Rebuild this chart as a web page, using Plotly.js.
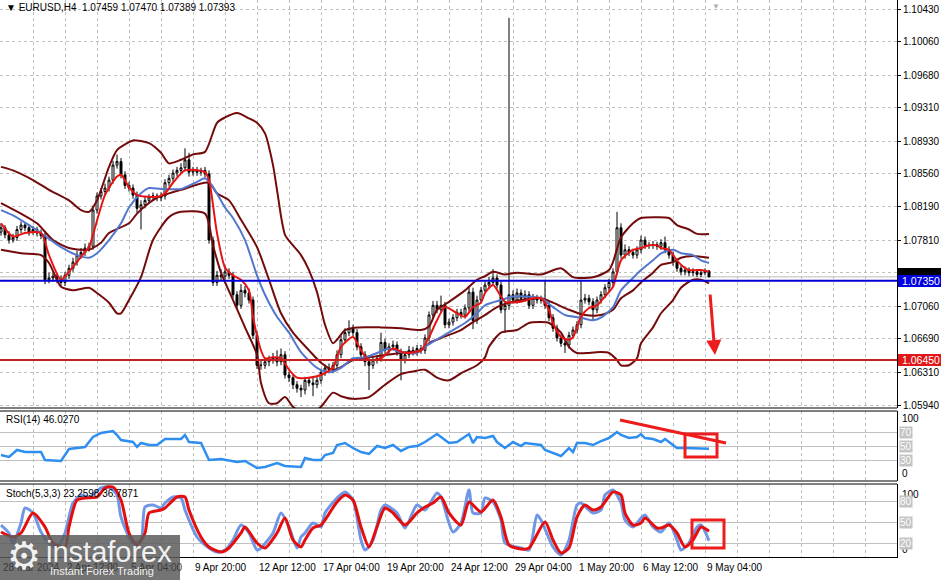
<!DOCTYPE html>
<html><head><meta charset="utf-8">
<script src="https://cdn.plot.ly/plotly-3.0.1.min.js"></script>
<style>html,body{margin:0;padding:0;background:#fff;}#chart{width:944px;height:580px;}</style>
</head><body><div id="chart"></div>
<script>
// ---------- DATA (EURUSD H4, bar index 0..177) ----------
const symbolTitle = "EURUSD,H4";
const lastOHLC = ["1.07459","1.07470","1.07389","1.07393"];
const openP = [1.0790,1.0795,1.0787,1.0781,1.0784,1.0793,1.0798,1.0795,1.0790,1.0793,
1.0789,1.0786,1.0736,1.0738,1.0740,1.0736,1.0733,1.0741,1.0749,1.0756,
1.0764,1.0767,1.0772,1.0774,1.0815,1.0831,1.0836,1.0840,1.0849,1.0866,
1.0870,1.0855,1.0843,1.0840,1.0832,1.0817,1.0821,1.0826,1.0830,1.0831,
1.0829,1.0831,1.0846,1.0851,1.0857,1.0860,1.0863,1.0872,1.0858,1.0860,
1.0858,1.0860,1.0856,1.0781,1.0733,1.0741,1.0740,1.0745,1.0741,1.0719,
1.0707,1.0724,1.0721,1.0713,1.0673,1.0639,1.0639,1.0643,1.0645,1.0648,
1.0643,1.0651,1.0628,1.0625,1.0617,1.0613,1.0611,1.0622,1.0619,1.0617,
1.0622,1.0631,1.0636,1.0634,1.0639,1.0651,1.0668,1.0676,1.0681,1.0676,
1.0660,1.0651,1.0643,1.0639,1.0645,1.0647,1.0665,1.0656,1.0660,1.0662,
1.0654,1.0645,1.0651,1.0656,1.0654,1.0658,1.0656,1.0670,1.0696,1.0707,
1.0702,1.0707,1.0685,1.0688,1.0693,1.0699,1.0696,1.0704,1.0722,1.0690,
1.0713,1.0724,1.0730,1.0733,1.0738,1.0730,1.0702,1.0707,1.0719,1.0713,
1.0721,1.0715,1.0719,1.0707,1.0715,1.0713,1.0713,1.0707,1.0693,1.0681,
1.0670,1.0664,1.0662,1.0673,1.0679,1.0685,1.0713,1.0715,1.0711,1.0702,
1.0713,1.0719,1.0727,1.0733,1.0745,1.0795,1.0764,1.0770,1.0767,1.0764,
1.0770,1.0781,1.0775,1.0775,1.0776,1.0774,1.0778,1.0770,1.0764,1.0756,
1.0749,1.0745,1.0747,1.0744,1.0745,1.0742,1.0744,1.07459];
const highP = [1.0800,1.0798,1.0791,1.0788,1.0797,1.0802,1.0801,1.0799,1.0797,1.0796,
1.0793,1.0789,1.0744,1.0745,1.0744,1.0741,1.0745,1.0753,1.0761,1.0769,
1.0772,1.0777,1.0778,1.0820,1.0835,1.0840,1.0845,1.0853,1.0871,1.0878,
1.0874,1.0859,1.0847,1.0844,1.0836,1.0826,1.0830,1.0833,1.0835,1.0834,
1.0835,1.0850,1.0855,1.0861,1.0864,1.0868,1.0885,1.0880,1.0864,1.0864,
1.0863,1.0864,1.0860,1.0785,1.0746,1.0748,1.0752,1.0749,1.0745,1.0723,
1.0731,1.0729,1.0726,1.0717,1.0677,1.0645,1.0648,1.0650,1.0653,1.0656,
1.0658,1.0655,1.0632,1.0629,1.0621,1.0617,1.0626,1.0626,1.0625,1.0626,
1.0635,1.0640,1.0641,1.0643,1.0656,1.0673,1.0681,1.0690,1.0685,1.0680,
1.0664,1.0655,1.0647,1.0649,1.0651,1.0676,1.0669,1.0664,1.0667,1.0666,
1.0658,1.0655,1.0661,1.0660,1.0662,1.0662,1.0674,1.0700,1.0712,1.0712,
1.0718,1.0711,1.0692,1.0697,1.0703,1.0703,1.0708,1.0727,1.0727,1.0718,
1.0728,1.0734,1.0739,1.0748,1.0742,1.0734,1.0712,1.1033,1.0724,1.0726,
1.0725,1.0724,1.0723,1.0720,1.0719,1.0718,1.0736,1.0711,1.0697,1.0685,
1.0674,1.0668,1.0677,1.0683,1.0689,1.0736,1.0720,1.0719,1.0715,1.0717,
1.0723,1.0731,1.0737,1.0749,1.0813,1.0800,1.0776,1.0774,1.0771,1.0774,
1.0786,1.0785,1.0779,1.0780,1.0779,1.0782,1.0785,1.0774,1.0768,1.0760,
1.0752,1.0751,1.0750,1.0749,1.0748,1.0747,1.0749,1.07470];
const lowP = [1.0786,1.0783,1.0777,1.0778,1.0780,1.0789,1.0791,1.0786,1.0787,1.0785,
1.0782,1.0731,1.0732,1.0734,1.0732,1.0729,1.0729,1.0737,1.0745,1.0752,
1.0760,1.0763,1.0768,1.0770,1.0811,1.0827,1.0832,1.0836,1.0845,1.0862,
1.0851,1.0839,1.0836,1.0828,1.0812,1.0793,1.0817,1.0822,1.0826,1.0825,
1.0825,1.0827,1.0842,1.0847,1.0853,1.0856,1.0859,1.0853,1.0854,1.0854,
1.0854,1.0852,1.0777,1.0729,1.0729,1.0735,1.0736,1.0737,1.0715,1.0702,
1.0703,1.0716,1.0709,1.0669,1.0635,1.0634,1.0635,1.0638,1.0641,1.0638,
1.0639,1.0624,1.0620,1.0612,1.0608,1.0603,1.0606,1.0615,1.0604,1.0613,
1.0618,1.0627,1.0630,1.0630,1.0635,1.0647,1.0664,1.0672,1.0672,1.0656,
1.0647,1.0638,1.0611,1.0635,1.0641,1.0643,1.0652,1.0652,1.0656,1.0650,
1.0622,1.0641,1.0647,1.0650,1.0650,1.0652,1.0652,1.0666,1.0692,1.0698,
1.0698,1.0681,1.0681,1.0684,1.0689,1.0692,1.0692,1.0700,1.0680,1.0686,
1.0709,1.0720,1.0726,1.0729,1.0726,1.0698,1.0676,1.0702,1.0709,1.0709,
1.0711,1.0711,1.0703,1.0703,1.0709,1.0709,1.0703,1.0689,1.0677,1.0666,
1.0660,1.0653,1.0658,1.0669,1.0675,1.0681,1.0709,1.0707,1.0690,1.0698,
1.0709,1.0715,1.0723,1.0729,1.0741,1.0760,1.0760,1.0763,1.0760,1.0760,
1.0766,1.0771,1.0771,1.0771,1.0770,1.0770,1.0766,1.0760,1.0752,1.0745,
1.0741,1.0741,1.0740,1.0740,1.0739,1.0739,1.0741,1.07389];
const closeP = [1.0795,1.0787,1.0781,1.0784,1.0793,1.0798,1.0795,1.0790,1.0793,1.0789,
1.0786,1.0736,1.0738,1.0740,1.0736,1.0733,1.0741,1.0749,1.0756,1.0764,
1.0767,1.0772,1.0774,1.0815,1.0831,1.0836,1.0840,1.0849,1.0866,1.0870,
1.0855,1.0843,1.0840,1.0832,1.0817,1.0821,1.0826,1.0830,1.0831,1.0829,
1.0831,1.0846,1.0851,1.0857,1.0860,1.0863,1.0872,1.0858,1.0860,1.0858,
1.0860,1.0856,1.0781,1.0733,1.0741,1.0740,1.0745,1.0741,1.0719,1.0707,
1.0724,1.0721,1.0713,1.0673,1.0639,1.0639,1.0643,1.0645,1.0648,1.0643,
1.0651,1.0628,1.0625,1.0617,1.0613,1.0611,1.0622,1.0619,1.0617,1.0622,
1.0631,1.0636,1.0634,1.0639,1.0651,1.0668,1.0676,1.0681,1.0676,1.0660,
1.0651,1.0643,1.0639,1.0645,1.0647,1.0665,1.0656,1.0660,1.0662,1.0654,
1.0645,1.0651,1.0656,1.0654,1.0658,1.0656,1.0670,1.0696,1.0707,1.0702,
1.0707,1.0685,1.0688,1.0693,1.0699,1.0696,1.0704,1.0722,1.0690,1.0713,
1.0724,1.0730,1.0733,1.0738,1.0730,1.0702,1.0707,1.0719,1.0713,1.0721,
1.0715,1.0719,1.0707,1.0715,1.0713,1.0713,1.0707,1.0693,1.0681,1.0670,
1.0664,1.0662,1.0673,1.0679,1.0685,1.0713,1.0715,1.0711,1.0702,1.0713,
1.0719,1.0727,1.0733,1.0745,1.0795,1.0764,1.0770,1.0767,1.0764,1.0770,
1.0781,1.0775,1.0775,1.0776,1.0774,1.0778,1.0770,1.0764,1.0756,1.0749,
1.0745,1.0747,1.0744,1.0745,1.0742,1.0744,1.0746,1.07393];

// fast MA (red)
const fastX = [0,3,6,10,12,15,17,20,22,23,26,29,30,32,34,37,39,41,43,46,51,52,54,56,58,60,62,63,65,66,68,70,72,74,77,80,83,85,88,90,92,95,98,101,105,107,109,111,114,116,118,120,121,123,125,126,130,133,135,137,138,140,142,143,145,147,149,151,153,154,155,157,158,160,162,164,165,167,168,170,172,174,175,177];
const fastY = [1.0800,1.0785,1.0789,1.0789,1.0764,1.0736,1.0745,1.0762,1.0773,1.0787,1.0832,1.0853,1.0855,1.0841,1.0832,1.0830,1.0830,1.0834,1.0846,1.0860,1.0858,1.0849,1.0789,1.0750,1.0741,1.0736,1.0724,1.0694,1.0656,1.0647,1.0648,1.0647,1.0634,1.0625,1.0625,1.0628,1.0637,1.0660,1.0671,1.0656,1.0645,1.0647,1.0658,1.0653,1.0656,1.0671,1.0690,1.0705,1.0698,1.0694,1.0705,1.0710,1.0721,1.0730,1.0717,1.0711,1.0711,1.0715,1.0715,1.0702,1.0687,1.0671,1.0668,1.0671,1.0694,1.0704,1.0707,1.0717,1.0728,1.0744,1.0758,1.0767,1.0770,1.0772,1.0775,1.0775,1.0772,1.0770,1.0764,1.0753,1.0747,1.0747,1.0747,1.0745];
// slow MA (blue)
const slowX = [0,3,7,10,15,19,22,24,27,30,32,35,37,40,45,49,51,53,56,58,61,64,66,69,72,75,79,82,85,88,91,94,97,100,104,106,110,113,116,119,121,125,128,131,135,138,141,145,148,150,153,155,158,160,163,165,168,170,173,175,177];
const slowY = [1.0815,1.0809,1.0798,1.0789,1.0773,1.0764,1.0761,1.0766,1.0781,1.0800,1.0818,1.0834,1.0840,1.0839,1.0839,1.0847,1.0851,1.0841,1.0818,1.0806,1.0781,1.0741,1.0719,1.0694,1.0676,1.0654,1.0636,1.0631,1.0636,1.0647,1.0648,1.0653,1.0658,1.0654,1.0653,1.0660,1.0671,1.0679,1.0687,1.0698,1.0707,1.0713,1.0717,1.0717,1.0715,1.0705,1.0696,1.0693,1.0690,1.0693,1.0705,1.0724,1.0738,1.0747,1.0758,1.0766,1.0770,1.0766,1.0764,1.0758,1.0755];
// Bollinger bands
const bbUpX = [0,3,8,12,17,20,22,24,27,29,32,33,37,40,42,45,48,51,54,56,59,62,64,66,68,69,71,73,75,77,79,81,83,84,86,89,95,100,105,107,109,111,112,116,119,121,123,126,129,135,140,143,146,149,152,153,155,158,160,164,167,169,172,174,177];
const bbUpY = [1.0864,1.0860,1.0849,1.0838,1.0826,1.0815,1.0813,1.0826,1.0864,1.0883,1.0892,1.0894,1.0891,1.0880,1.0868,1.0872,1.0878,1.0881,1.0914,1.0920,1.0925,1.0919,1.0914,1.0902,1.0866,1.0838,1.0787,1.0775,1.0764,1.0747,1.0722,1.0685,1.0664,1.0668,1.0679,1.0682,1.0682,1.0681,1.0679,1.0683,1.0702,1.0708,1.0711,1.0724,1.0736,1.0740,1.0745,1.0742,1.0744,1.0742,1.0749,1.0739,1.0738,1.0740,1.0747,1.0756,1.0784,1.0800,1.0806,1.0807,1.0806,1.0798,1.0793,1.0788,1.0788];
const bbMidX = [0,5,9,13,17,20,22,25,27,32,34,37,39,42,45,52,54,57,60,64,67,70,73,77,80,83,85,88,92,100,105,107,110,115,118,121,124,127,130,135,138,142,146,150,153,155,158,160,163,165,168,170,173,175,177];
const bbMidY = [1.0823,1.0811,1.0800,1.0781,1.0772,1.0770,1.0770,1.0778,1.0789,1.0800,1.0811,1.0823,1.0829,1.0834,1.0838,1.0846,1.0834,1.0826,1.0804,1.0773,1.0736,1.0698,1.0676,1.0656,1.0642,1.0634,1.0637,1.0645,1.0648,1.0653,1.0656,1.0664,1.0670,1.0679,1.0688,1.0696,1.0705,1.0710,1.0713,1.0715,1.0710,1.0702,1.0696,1.0696,1.0702,1.0715,1.0724,1.0733,1.0744,1.0753,1.0756,1.0761,1.0763,1.0762,1.0761];
const bbLoX = [0,5,10,12,14,15,18,22,24,27,29,30,32,35,38,42,45,51,53,55,58,61,64,65,67,69,71,73,75,78,80,83,85,88,92,96,100,103,106,109,112,115,119,121,122,125,129,132,135,137,140,142,144,147,150,152,154,155,157,159,160,163,165,168,170,173,175,177];
const bbLoY = [1.0770,1.0766,1.0764,1.0755,1.0736,1.0728,1.0724,1.0727,1.0721,1.0710,1.0698,1.0698,1.0713,1.0739,1.0781,1.0807,1.0813,1.0811,1.0775,1.0744,1.0713,1.0682,1.0651,1.0619,1.0596,1.0596,1.0603,1.0592,1.0586,1.0586,1.0592,1.0608,1.0604,1.0601,1.0603,1.0617,1.0629,1.0632,1.0634,1.0625,1.0622,1.0630,1.0639,1.0648,1.0660,1.0676,1.0679,1.0687,1.0688,1.0687,1.0676,1.0660,1.0653,1.0653,1.0654,1.0653,1.0645,1.0639,1.0639,1.0647,1.0664,1.0682,1.0698,1.0713,1.0727,1.0736,1.0736,1.0732];
// RSI(14)
const rsiX = [0,2,4,6,10,11,15,17,21,23,25,28,29,30,33,34,35,37,39,41,45,46,47,50,52,55,59,61,64,66,69,71,75,76,78,80,81,83,84,86,88,90,92,94,96,98,100,102,104,106,109,110,112,114,117,118,119,121,123,124,126,128,130,131,135,136,138,140,142,143,144,146,148,150,152,154,155,157,159,160,161,163,165,166,168,169,171,174,176,177];
const rsiY = [37.1,34.3,44.3,41.4,41.4,30.0,28.6,45.7,48.6,62.9,68.6,71.4,65.7,58.6,55.7,48.6,54.3,51.4,51.4,60.0,60.0,65.7,55.7,54.3,30.0,31.4,27.1,28.6,18.6,20.0,25.7,21.4,20.0,32.9,30.0,30.0,37.1,40.0,51.4,54.3,47.1,41.4,38.6,50.0,47.1,51.4,42.9,48.6,50.0,55.7,67.1,62.9,54.3,55.7,67.1,54.3,62.9,61.4,64.3,55.7,47.1,55.7,50.0,54.3,51.4,44.3,40.0,35.7,47.1,41.4,54.3,54.3,51.4,57.1,61.4,70.0,65.7,61.4,62.9,67.1,61.4,60.0,55.7,60.0,51.4,47.1,47.1,47.1,47.1,46.03];
const rsiLevels = [30,50,70];
// Stochastic(5,3,3)
const stochKX = [0,2,3,5,6,8,10,12,14,16,18,20,22,25,27,29,30,33,35,36,38,40,41,43,45,46,49,51,54,56,58,60,62,64,65,68,70,72,74,75,76,78,80,81,84,86,88,90,91,93,95,96,99,101,104,106,109,110,113,115,117,118,120,121,123,125,126,130,132,134,135,138,140,142,144,145,148,150,151,153,155,156,158,160,161,163,165,167,169,170,172,174,175,177];
const stochKY = [45.7,34.3,20.0,48.6,70.0,62.9,35.7,20.0,12.9,34.3,77.1,88.6,85.7,98.6,100,88.6,57.1,20.0,24.3,71.4,74.3,70.0,77.1,85.7,84.3,67.1,28.6,17.1,7.1,10.0,24.3,45.7,34.3,10.0,12.9,34.3,62.9,42.9,12.9,28.6,34.3,48.6,42.9,62.9,84.3,92.9,81.4,24.3,10.0,24.3,67.1,74.3,62.9,41.4,74.3,67.1,91.4,85.7,35.7,48.6,95.7,62.9,62.9,84.3,78.6,52.9,20.0,12.9,10.0,60.0,52.9,14.3,2.9,24.3,74.3,77.1,62.9,67.1,88.6,95.7,77.1,52.9,42.9,55.7,60.0,42.9,35.7,48.6,24.3,10.0,20.0,42.9,45.7,23.26];
const stochDX = [0,3,5,8,11,13,16,17,19,21,24,26,28,30,32,34,36,37,40,41,44,46,47,50,52,55,57,60,61,64,66,69,71,73,75,76,78,80,81,84,86,88,90,92,94,96,98,101,104,106,108,110,112,115,117,120,123,125,127,130,132,136,138,140,142,144,146,148,150,153,155,156,158,160,161,164,165,167,169,171,173,175,177];
const stochDY = [35.7,28.6,34.3,62.9,42.9,20.0,14.3,42.9,81.4,84.3,85.7,98.6,100,81.4,34.3,17.1,34.3,62.9,67.1,70.0,85.7,85.7,67.1,28.6,14.3,7.1,12.9,34.3,42.9,20.0,12.9,34.3,55.7,24.3,14.3,24.3,41.4,45.7,52.9,78.6,88.6,81.4,42.9,14.3,42.9,70.0,62.9,45.7,62.9,71.4,77.1,85.7,62.9,45.7,78.6,64.3,81.4,57.1,17.1,11.4,12.9,50.0,24.3,5.7,12.9,57.1,74.3,67.1,71.4,92.9,88.6,62.9,45.7,48.6,55.7,41.4,41.4,45.7,34.3,14.3,24.3,42.9,36.79];
const stochLevels = [20,50,80];
const rsiTitle = "RSI(14) 46.0270";
const stochTitle = "Stoch(5,3,3) 23.2598 36.7871";
// price axis
const priceTicks = [1.0594,1.0631,1.0669,1.0706,1.0744,1.0781,1.0819,1.0856,1.0893,1.0931,1.0968,1.1006,1.1043];
const supportLevel = 1.0735;
const targetLevel = 1.0645;
const bidPrice = 1.07393;
// time axis
const timeTickIdx = [0,16,32,48,64,80,96,112,128,144,160,176];
const timeTickLabels = ["28 Mar 2024","2 Apr 12:00","5 Apr 04:00","9 Apr 20:00","12 Apr 12:00","17 Apr 04:00","19 Apr 20:00","24 Apr 12:00","29 Apr 04:00","1 May 20:00","6 May 12:00","9 May 04:00"];

// ---------- LAYOUT HELPERS ----------
const PW = 897, PH = 557;
const px = v => v / PW;
const py = v => 1 - v / PH;
const FONT = "Liberation Sans, Arial, sans-serif";
const idx = closeP.map((_, i) => i);
const gridIdx = [];
for (let g = 0; g <= 224; g += 8) gridIdx.push(g);

const MAROON = "#740b0b";
const traces = [
  {type:"candlestick", x: idx, open: openP, high: highP, low: lowP, close: closeP,
   xaxis:"x", yaxis:"y", whiskerwidth:0,
   increasing:{line:{color:"#000", width:1}, fillcolor:"#ffffff"},
   decreasing:{line:{color:"#000", width:1}, fillcolor:"#000000"},
   hoverinfo:"skip", showlegend:false},
  {type:"scatter", mode:"lines", x: bbUpX, y: bbUpY, line:{color:MAROON, width:2, shape:"spline", smoothing:0.7}, xaxis:"x", yaxis:"y", hoverinfo:"skip", showlegend:false},
  {type:"scatter", mode:"lines", x: bbMidX, y: bbMidY, line:{color:MAROON, width:2, shape:"spline", smoothing:0.7}, xaxis:"x", yaxis:"y", hoverinfo:"skip", showlegend:false},
  {type:"scatter", mode:"lines", x: bbLoX, y: bbLoY, line:{color:MAROON, width:2, shape:"spline", smoothing:0.7}, xaxis:"x", yaxis:"y", hoverinfo:"skip", showlegend:false},
  {type:"scatter", mode:"lines", x: slowX, y: slowY, line:{color:"#5277cf", width:2, shape:"spline", smoothing:0.7}, xaxis:"x", yaxis:"y", hoverinfo:"skip", showlegend:false},
  {type:"scatter", mode:"lines", x: fastX, y: fastY, line:{color:"#e81414", width:2, shape:"spline", smoothing:0.7}, xaxis:"x", yaxis:"y", hoverinfo:"skip", showlegend:false},
  {type:"scatter", mode:"lines", x: rsiX, y: rsiY, line:{color:"#2e8ff0", width:2.5}, xaxis:"x", yaxis:"y2", hoverinfo:"skip", showlegend:false},
  {type:"scatter", mode:"lines", x: stochKX, y: stochKY, line:{color:"#6f97e6", width:3, shape:"spline", smoothing:0.7}, xaxis:"x", yaxis:"y3", hoverinfo:"skip", showlegend:false},
  {type:"scatter", mode:"lines", x: stochDX, y: stochDY, line:{color:"#e30f0f", width:3, shape:"spline", smoothing:0.7}, xaxis:"x", yaxis:"y3", hoverinfo:"skip", showlegend:false}
];

const gridStyle = {showgrid:true, gridcolor:"#c0c0c0", gridwidth:1, griddash:"dot"};
const layout = {
  width:944, height:580, margin:{l:0, r:47, t:0, b:23},
  paper_bgcolor:"#fff", plot_bgcolor:"#fff", hovermode:false, dragmode:false, showlegend:false,
  font:{family:FONT, size:10, color:"#000"},
  xaxis: Object.assign({range:[-0.25, 224], anchor:"y3", tickmode:"array", tickvals:gridIdx,
    showticklabels:false, ticks:"", zeroline:false, showline:true, linecolor:"#000", linewidth:1,
    rangeslider:{visible:false}, fixedrange:true}, gridStyle),
  yaxis: Object.assign({domain:[py(408), 1], range:[1.05906, 1.10532], side:"right", anchor:"x",
    tickmode:"array", tickvals:priceTicks, ticktext:priceTicks.map(v => v.toFixed(5)),
    ticks:"outside", ticklen:3, tickcolor:"#000", tickfont:{family:FONT, size:10, color:"#000"},
    showline:true, mirror:true, linecolor:"#000", linewidth:1, zeroline:false, fixedrange:true}, gridStyle),
  yaxis2: {domain:[py(481), py(411)], range:[0,100], side:"right", anchor:"x",
    tickmode:"array", tickvals:rsiLevels, showticklabels:false, ticks:"",
    showgrid:true, gridcolor:"#c0c0c0", gridwidth:1, zeroline:false,
    showline:true, mirror:true, linecolor:"#000", linewidth:1, fixedrange:true},
  yaxis3: {domain:[0, py(484)], range:[0, (PH-484)/0.7], side:"right", anchor:"x",
    tickmode:"array", tickvals:stochLevels, showticklabels:false, ticks:"",
    showgrid:true, gridcolor:"#c0c0c0", gridwidth:1, zeroline:false,
    showline:true, mirror:true, linecolor:"#000", linewidth:1, fixedrange:true},
  shapes: [], annotations: []
};

const S = layout.shapes, A = layout.annotations;
// panel separators
[408, 411, 481, 484].forEach(v => S.push({type:"line", xref:"paper", yref:"paper", x0:0, x1:1, y0:py(v), y1:py(v), line:{color:"#000", width:1}}));
// horizontal price levels
S.push({type:"line", xref:"paper", yref:"y", x0:0, x1:1, y0:bidPrice, y1:bidPrice, line:{color:"#bdbdbd", width:1}, layer:"below"});
S.push({type:"line", xref:"paper", yref:"y", x0:0, x1:1, y0:supportLevel, y1:supportLevel, line:{color:"#0000d8", width:2}, layer:"above"});
S.push({type:"line", xref:"paper", yref:"y", x0:0, x1:1, y0:targetLevel, y1:targetLevel, line:{color:"#c42020", width:2}, layer:"above"});
// price label boxes on the right scale
S.push({type:"rect", xref:"paper", yref:"paper", x0:px(898), x1:px(941), y0:py(276), y1:py(268), fillcolor:"#000", line:{width:0}, layer:"above"});
S.push({type:"rect", xref:"paper", yref:"paper", x0:px(898), x1:px(941), y0:py(287), y1:py(275), fillcolor:"#0000e0", line:{width:0}, layer:"above"});
S.push({type:"rect", xref:"paper", yref:"paper", x0:px(898), x1:px(941), y0:py(366), y1:py(354), fillcolor:"#e01818", line:{width:0}, layer:"above"});
A.push({xref:"paper", yref:"y", x:px(900), y:supportLevel, xanchor:"left", yanchor:"middle", text:supportLevel.toFixed(5), showarrow:false, font:{family:FONT, size:10.5, color:"#fff"}});
A.push({xref:"paper", yref:"y", x:px(900), y:targetLevel, xanchor:"left", yanchor:"middle", text:targetLevel.toFixed(5), showarrow:false, font:{family:FONT, size:10.5, color:"#fff"}});

// red analyst drawings
const RED = "#ee1c1c";
S.push({type:"line", xref:"paper", yref:"paper", x0:px(620), y0:py(420), x1:px(726), y1:py(443), line:{color:RED, width:3}, layer:"above"});
S.push({type:"rect", xref:"paper", yref:"paper", x0:px(685), y0:py(457), x1:px(717), y1:py(434), line:{color:RED, width:3}, layer:"above"});
S.push({type:"rect", xref:"paper", yref:"paper", x0:px(692), y0:py(548), x1:px(724), y1:py(520), line:{color:RED, width:3}, layer:"above"});
A.push({xref:"paper", yref:"paper", x:px(715), y:py(355), ax:-5, ay:-62, text:"", showarrow:true, arrowhead:2, arrowsize:1, arrowwidth:3, arrowcolor:RED, standoff:0});

// header texts
A.push({xref:"paper", yref:"paper", x:px(4), y:py(7), xanchor:"left", yanchor:"middle", showarrow:false,
  text:"\u25BC " + symbolTitle + "\u00a0\u00a0" + lastOHLC.join(" "), font:{family:FONT, size:10, color:"#000"}});
A.push({xref:"paper", yref:"paper", x:px(716), y:py(6), xanchor:"center", yanchor:"middle", showarrow:false, text:"\u25BC", font:{family:FONT, size:8, color:"#b0b0b0"}});
A.push({xref:"paper", yref:"paper", x:px(4), y:py(419), xanchor:"left", yanchor:"middle", showarrow:false, text:rsiTitle, font:{family:FONT, size:10, color:"#000"}});
A.push({xref:"paper", yref:"paper", x:px(4), y:py(493), xanchor:"left", yanchor:"middle", showarrow:false, text:stochTitle, font:{family:FONT, size:10, color:"#000"}});

// indicator scale labels
function scaleLabels(axis, levels) {
  A.push({xref:"paper", yref:axis, x:px(900), y:100, xanchor:"left", yanchor:"top", showarrow:false, text:"100", font:{family:FONT, size:10, color:"#000"}});
  A.push({xref:"paper", yref:axis, x:px(900), y:0, xanchor:"left", yanchor:"bottom", showarrow:false, text:"0", font:{family:FONT, size:10, color:"#000"}});
  levels.forEach(v => A.push({xref:"paper", yref:axis, x:px(899), y:v, xanchor:"left", yanchor:"middle", showarrow:false,
    text:String(v), bgcolor:"#c4c4c4", borderpad:0, font:{family:FONT, size:10, color:"#fff"}}));
}
scaleLabels("y2", rsiLevels);
scaleLabels("y3", stochLevels);

// time labels (left-aligned at the tick, MT4 style)
timeTickIdx.forEach((t, k) => A.push({xref:"x", yref:"paper", x:t, y:py(567), xanchor:"left", yanchor:"middle", showarrow:false,
  text:timeTickLabels[k], font:{family:FONT, size:10, color: t < 45 ? "#3a3a3a" : "#000"}}));

// watermark logo
S.push({type:"rect", xref:"paper", yref:"paper", x0:0, x1:px(180), y0:py(580), y1:py(535), fillcolor:"rgba(92,92,92,0.85)", line:{width:0}, layer:"above"});
A.push({xref:"paper", yref:"paper", x:px(24), y:py(556), xanchor:"center", yanchor:"middle", showarrow:false, text:"\u2699", font:{family:"DejaVu Sans", size:38, color:"rgba(255,255,255,0.92)"}});
A.push({xref:"paper", yref:"paper", x:px(44), y:py(552), xanchor:"left", yanchor:"middle", showarrow:false, text:"instaforex", font:{family:FONT, size:29, color:"rgba(255,255,255,0.92)"}});
A.push({xref:"paper", yref:"paper", x:px(48), y:py(571), xanchor:"left", yanchor:"middle", showarrow:false, text:"Instant Forex Trading", font:{family:FONT, size:11, color:"rgba(255,255,255,0.92)"}});

Plotly.newPlot("chart", traces, layout, {staticPlot:true, displayModeBar:false});
</script></body></html>
